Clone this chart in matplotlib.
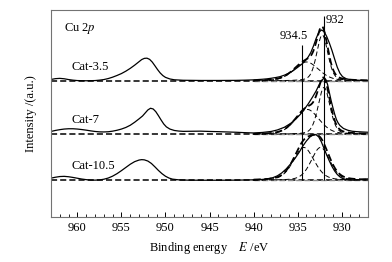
import numpy as np
import matplotlib.pyplot as plt

plt.rcParams['font.family'] = ['Liberation Serif', 'DejaVu Serif']
plt.rcParams['mathtext.fontset'] = 'stix'
plt.rcParams['font.size'] = 9

# samples, baselines (offset of each trace)
names = ['Cat-3.5', 'Cat-7', 'Cat-10.5']
baselines = [136.0, 82.5, 36.5]

# measured spectra: binding energy (eV) and intensity above baseline
E_35 = [963.0, 962.5, 962.0, 961.5, 961.0, 960.5, 960.0, 959.0, 958.0, 957.5,
        957.0, 956.5, 956.0, 955.5, 955.0, 954.5, 954.0, 953.5, 953.0, 952.7,
        952.4, 952.1, 951.8, 951.5, 951.2, 950.9, 950.6, 950.3, 950.0, 949.5,
        949.0, 948.0, 946.0, 944.0, 942.0, 941.0, 940.0, 939.0, 938.5, 938.0,
        937.5, 937.0, 936.5, 936.0, 935.5, 935.0, 934.5, 934.1, 933.8, 933.5,
        933.2, 932.9, 932.6, 932.3, 932.0, 931.7, 931.4, 931.1, 930.8, 930.5,
        930.2, 929.9, 929.5, 929.0, 928.5, 928.0, 927.0]
I_35 = [1.5, 2.3, 2.6, 2.2, 1.4, 0.8, 0.4, 0.2, 0.4, 0.8,
        1.4, 2.4, 3.8, 5.5, 7.4, 9.8, 12.6, 15.8, 19.3, 21.4,
        22.6, 22.8, 21.6, 18.9, 15.2, 11.4, 8.0, 5.4, 3.6, 2.0,
        1.2, 0.7, 0.5, 0.5, 0.6, 0.8, 1.1, 1.7, 2.1, 2.7,
        3.4, 4.3, 5.8, 7.8, 10.3, 13.6, 17.0, 20.5, 24.0, 28.5,
        35.0, 42.5, 48.5, 51.0, 49.5, 44.5, 38.0, 30.5, 22.0, 13.8,
        7.8, 4.3, 2.3, 1.3, 0.9, 0.7, 0.5]

E_7 = [963.0, 962.5, 962.0, 961.5, 961.0, 960.5, 960.0, 959.5, 959.0, 958.5,
       958.0, 957.5, 957.0, 956.5, 956.0, 955.5, 955.0, 954.5, 954.0, 953.5,
       953.0, 952.6, 952.3, 952.0, 951.7, 951.4, 951.1, 950.8, 950.5, 950.2,
       949.9, 949.5, 949.0, 948.5, 948.0, 947.0, 946.0, 945.0, 944.0, 943.0,
       942.0, 941.0, 940.0, 939.0, 938.0, 937.3, 936.5, 935.8, 935.2, 934.7,
       934.3, 933.8, 933.3, 932.9, 932.6, 932.3, 932.0, 931.8, 931.6, 931.4,
       931.2, 931.0, 930.8, 930.6, 930.4, 930.2, 929.8, 929.3, 928.8, 928.3,
       927.5, 927.0]
I_7 = [3.0, 4.0, 4.8, 5.4, 5.7, 5.7, 5.4, 4.9, 4.3, 3.6,
       3.0, 2.6, 2.5, 2.7, 3.3, 4.2, 5.4, 7.0, 9.2, 12.2,
       15.6, 18.5, 21.5, 24.5, 26.2, 25.5, 22.8, 18.8, 14.5, 10.5,
       7.6, 5.4, 4.0, 3.4, 3.1, 3.2, 3.3, 3.0, 2.8, 2.5,
       2.2, 1.8, 1.5, 2.0, 3.0, 4.5, 7.2, 11.0, 15.5, 20.0,
       24.5, 30.5, 37.5, 43.5, 49.0, 54.0, 56.2, 55.0, 50.0, 42.0,
       34.0, 27.0, 20.5, 15.0, 11.5, 9.0, 6.0, 4.2, 3.2, 2.8,
       2.4, 2.2]

E_105 = [963.0, 962.5, 962.0, 961.5, 961.0, 960.5, 960.0, 959.5, 959.0, 958.5,
         958.0, 957.5, 957.0, 956.5, 956.0, 955.5, 955.0, 954.5, 954.0, 953.5,
         953.0, 952.7, 952.4, 952.0, 951.6, 951.2, 950.8, 950.4, 950.0, 949.6,
         949.2, 948.5, 947.5, 946.0, 944.0, 942.0, 940.0, 939.0, 938.3, 937.8,
         937.3, 936.8, 936.3, 935.8, 935.3, 934.8, 934.4, 934.0, 933.6, 933.2,
         932.9, 932.6, 932.3, 932.0, 931.7, 931.4, 931.1, 930.8, 930.5, 930.2,
         929.9, 929.5, 929.0, 928.5, 928.0, 927.5, 927.0]
I_105 = [2.3, 3.2, 3.9, 4.1, 3.7, 3.0, 2.2, 1.4, 0.8, 0.4,
         0.3, 0.5, 1.2, 2.4, 4.3, 6.8, 9.8, 13.0, 16.2, 18.8,
         20.4, 20.8, 20.6, 19.4, 17.0, 13.6, 10.0, 6.8, 4.2, 2.4,
         1.3, 0.6, 0.3, 0.2, 0.2, 0.3, 0.6, 1.0, 1.8, 2.8,
         4.6, 7.5, 11.5, 16.5, 22.0, 28.5, 34.5, 39.5, 43.5, 45.8,
         45.7, 43.5, 38.5, 32.0, 25.5, 19.5, 14.0, 9.5, 6.0, 3.6,
         2.0, 1.0, 0.4, 0.3, 0.7, 1.3, 1.6]

spectra = [(E_35, I_35), (E_7, I_7), (E_105, I_105)]

# fitted Cu 2p3/2 components: centre (eV), height, FWHM (eV)
fit_centres = [[932.2, 934.0], [932.0, 933.9], [932.4, 934.3]]
fit_heights = [[46.0, 19.0], [47.0, 25.0], [33.0, 33.0]]
fit_fwhm = [[1.5, 3.3], [1.6, 3.2], [2.5, 2.8]]

# marked energies
marks = [934.5, 932.0]
mark_labels = ['934.5', '932']
mark_tops = [172.0, 200.5]


def pvoigt(E, c, h, w, m=0.3):
    g = np.exp(-4 * np.log(2) * (E - c) ** 2 / w ** 2)
    l = 1 / (1 + 4 * (E - c) ** 2 / w ** 2)
    return h * (m * l + (1 - m) * g)


fig = plt.figure(figsize=(3.92, 2.62), dpi=100)
ax = fig.add_axes([0.130, 0.172, 0.809, 0.788])

E_fit = np.linspace(940, 927, 400)

for k in range(3):
    b = baselines[k]
    ax.axhline(b, color='k', lw=1.1, ls=(0, (4, 2)))
    ax.plot(E_fit, np.full_like(E_fit, b), color='0.55', lw=1.0, ls=(0, (4, 2)))
    total = np.zeros_like(E_fit)
    for c, h, w in zip(fit_centres[k], fit_heights[k], fit_fwhm[k]):
        comp = pvoigt(E_fit, c, h, w)
        total += comp
        ax.plot(E_fit, comp + b, color='k', lw=0.7, ls=(0, (5, 3)))
    ax.plot(E_fit, total + b, color='k', lw=1.3, ls=(0, (4, 2)))
    E, I = spectra[k]
    ax.plot(E, np.array(I) + b, color='k', lw=0.9)
    ax.text(960.7, b + 14, names[k], ha='left', va='center')

ax.vlines(marks, baselines[2], mark_tops, color='k', lw=0.8)
ax.text(935.4, 181, mark_labels[0], ha='center', va='center')
ax.text(930.8, 197, mark_labels[1], ha='center', va='center')
ax.text(961.5, 188, 'Cu 2$p$', ha='left', va='center')

ax.set_xlim(963, 927)
ax.set_ylim(0, 206.5)
ax.set_xticks([960, 955, 950, 945, 940, 935, 930])
ax.set_xticks(np.arange(927, 964, 1), minor=True)
ax.set_yticks([])
ax.tick_params(axis='x', direction='in', length=3.5, width=0.7, pad=4)
ax.tick_params(axis='x', which='minor', direction='in', length=2, width=0.6)
for s in ax.spines.values():
    s.set_color('0.45')
    s.set_linewidth(0.8)

ax.set_xlabel('Binding energy    $E$ /eV', labelpad=4)
ax.set_ylabel('Intensity /(a.u.)', labelpad=10)

fig.savefig('out.png', dpi=100)
